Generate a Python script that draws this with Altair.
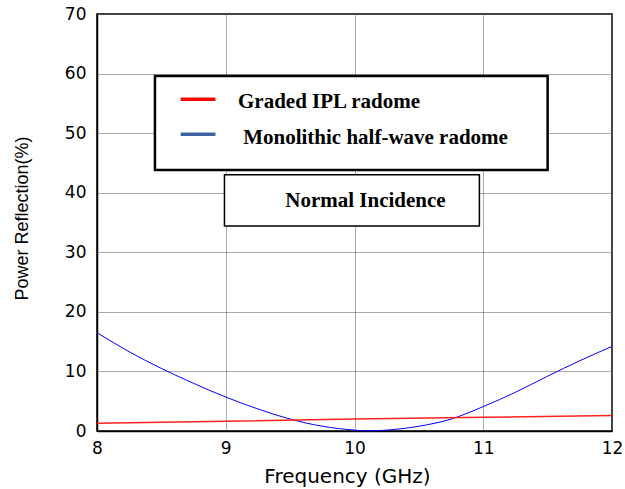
import altair as alt
import pandas as pd

# Data
freq_blue = [8.0, 8.25, 8.5, 8.75, 9.0, 9.25, 9.5, 9.75, 10.0, 10.1, 10.25, 10.5, 10.75, 11.0, 11.25, 11.5, 11.75, 12.0]
refl_blue = [16.5, 13.3, 10.5, 8.0, 5.7, 3.7, 2.0, 0.8, 0.15, 0.0, 0.15, 0.8, 2.0, 4.1, 6.5, 9.2, 11.8, 14.2]
freq_red = [8.0, 9.0, 10.0, 11.0, 12.0]
refl_red = [1.3, 1.65, 2.0, 2.3, 2.6]

legend_labels = ["Graded IPL radome", "Monolithic half-wave radome"]
legend_colors = ["#ff0000", "#3f62a0"]
note_text = ["Normal Incidence"]

blue = pd.DataFrame({"f": freq_blue, "r": refl_blue})
red = pd.DataFrame({"f": freq_red, "r": refl_red})

xs = alt.Scale(domain=[8, 12], nice=False)
ys = alt.Scale(domain=[0, 70], nice=False)

xax = alt.Axis(values=[8, 9, 10, 11, 12], title="Frequency (GHz)", grid=True, ticks=False,
               labelPadding=9, titlePadding=10, format="d", labelFlush=False, titleX=250)
yax = alt.Axis(values=[0, 10, 20, 30, 40, 50, 60, 70], title="Power Reflection(%)", grid=True,
               ticks=False, labelPadding=11, titlePadding=33, labelFlush=False, titleY=204)

base_blue = alt.Chart(blue).mark_line(color="#0000ff", strokeWidth=1, interpolate="monotone").encode(
    x=alt.X("f:Q", scale=xs, axis=xax),
    y=alt.Y("r:Q", scale=ys, axis=yax),
)
base_red = alt.Chart(red).mark_line(color="#ff2020", strokeWidth=1.5).encode(
    x=alt.X("f:Q", scale=xs), y=alt.Y("r:Q", scale=ys)
)

# legend box (data coords)
box1 = pd.DataFrame({"x": [8.45], "x2": [11.50], "y": [59.6], "y2": [43.8]})
box2 = pd.DataFrame({"x": [8.99], "x2": [10.97], "y": [43.0], "y2": [34.4]})
rect1 = alt.Chart(box1).mark_rect(fill="white", stroke="black", strokeWidth=2.5).encode(
    x=alt.X("x:Q", scale=xs), x2="x2:Q", y=alt.Y("y:Q", scale=ys), y2="y2:Q")
rect2 = alt.Chart(box2).mark_rect(fill="white", stroke="black", strokeWidth=1.5).encode(
    x=alt.X("x:Q", scale=xs), x2="x2:Q", y=alt.Y("y:Q", scale=ys), y2="y2:Q")

leg = pd.DataFrame({"label": legend_labels, "color": legend_colors,
                    "x1": [8.65, 8.65], "x2": [8.92, 8.92], "sy": [55.7, 49.8],
                    "y": [55.3, 49.2], "tx": [9.095, 9.135]})
swatch = alt.Chart(leg).mark_rule(strokeWidth=3.5).encode(
    x=alt.X("x1:Q", scale=xs), x2="x2:Q", y=alt.Y("sy:Q", scale=ys),
    color=alt.Color("color:N", scale=None))
legtext = alt.Chart(leg).mark_text(align="left", baseline="middle", font="Liberation Serif",
                                   fontWeight="bold", fontSize=21, color="black").encode(
    x=alt.X("tx:Q", scale=xs), y=alt.Y("y:Q", scale=ys), text="label:N")

note = pd.DataFrame({"t": note_text, "x": [10.085], "y": [38.6]})
notetext = alt.Chart(note).mark_text(align="center", baseline="middle", font="Liberation Serif",
                                     fontWeight="bold", fontSize=21, color="black").encode(
    x=alt.X("x:Q", scale=xs), y=alt.Y("y:Q", scale=ys), text="t:N")

chart = alt.layer(base_blue, base_red, rect1, rect2, swatch, legtext, notetext).properties(
    width=515, height=417,
    background="white",
    autosize=alt.AutoSizeParams(type="none"),
    padding={"left": 97, "top": 14, "right": 13, "bottom": 58},
).configure_view(stroke="black", strokeWidth=1.5).configure_axis(
    domainColor="black", domainWidth=1.5,
    gridColor="#555555", gridDash=[1, 1], gridWidth=1, gridOpacity=1,
    labelFont="DejaVu Sans", labelFontSize=17, labelColor="black",
    titleFont="DejaVu Sans", titleFontWeight="normal", titleColor="black",
).configure_axisX(titleFontSize=20).configure_axisY(
    titleFontSize=18, titleFont="Liberation Sans"
)

chart.save("out.html", embed_options={"renderer": "svg", "actions": False})
